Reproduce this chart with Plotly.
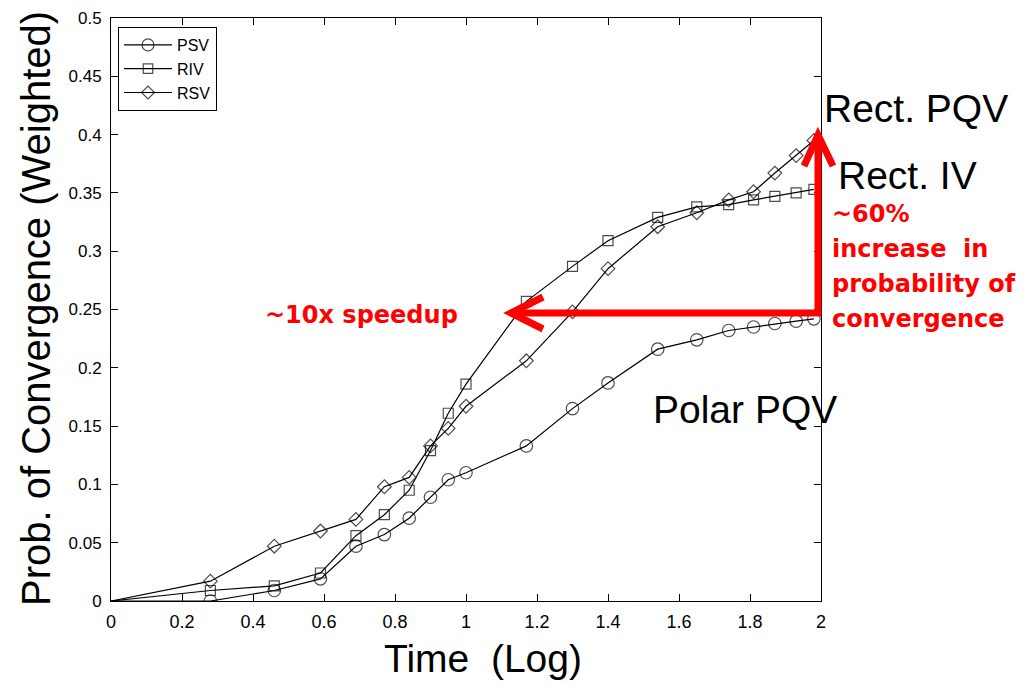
import plotly.graph_objects as go

# ---- data ----
x_log_time = [0, 0.28, 0.46, 0.59, 0.69, 0.77, 0.84, 0.90, 0.95, 1.00,
              1.17, 1.30, 1.40, 1.54, 1.65, 1.74, 1.81, 1.87, 1.93, 1.98]
psv = [0, 0.000, 0.009, 0.019, 0.047, 0.057, 0.071, 0.089, 0.104, 0.110,
       0.133, 0.165, 0.187, 0.216, 0.224, 0.232, 0.235, 0.238, 0.240, 0.242]
riv = [0, 0.009, 0.013, 0.024, 0.056, 0.074, 0.095, 0.129, 0.161, 0.186,
       0.257, 0.287, 0.309, 0.329, 0.338, 0.340, 0.344, 0.347, 0.350, 0.353]
rsv = [0, 0.017, 0.047, 0.060, 0.070, 0.098, 0.106, 0.133, 0.148, 0.167,
       0.206, 0.248, 0.285, 0.321, 0.333, 0.344, 0.351, 0.367, 0.382, 0.395]
series_names = ["PSV", "RIV", "RSV"]
x_ticks = [0, 0.2, 0.4, 0.6, 0.8, 1, 1.2, 1.4, 1.6, 1.8, 2]
y_ticks = [0, 0.05, 0.1, 0.15, 0.2, 0.25, 0.3, 0.35, 0.4, 0.45, 0.5]

FONT = "Liberation Sans, Arial, Helvetica, sans-serif"
BOLD_FONT = "DejaVu Sans, Verdana, sans-serif"
OFF = 8  # page body margin
W, H = 1025 - OFF, 685 - OFF
L, R, T, B = 111, 821, 18, 601  # plot area in screen pixels


def px(xp):
    return (xp - L) / (R - L)


def py(yp):
    return (B - yp) / (B - T)


fig = go.Figure()
symbols = ["circle-open", "square-open", "diamond-open"]
sizes = [12.5, 10, 10.5]
for name, ys, sym, sz in zip(series_names, [psv, riv, rsv], symbols, sizes):
    msize = [0] + [sz] * (len(ys) - 1)
    fig.add_trace(go.Scatter(
        x=x_log_time, y=ys, name=name, mode="lines+markers",
        line=dict(color="black", width=1.2),
        marker=dict(symbol=sym, size=msize, color="black",
                    line=dict(color="black", width=1.2)),
    ))

axis_common = dict(
    showline=True, linecolor="black", linewidth=1, mirror="ticks",
    ticks="inside", ticklen=7, tickcolor="black", tickwidth=1,
    showgrid=False, zeroline=False, automargin=False,
)
fig.update_xaxes(range=[0, 2], tickvals=x_ticks, ticklabelstandoff=4,
                 tickfont=dict(family=FONT, size=18, color="black"), **axis_common)
fig.update_yaxes(range=[0, 0.5], tickvals=y_ticks, ticklabelstandoff=5,
                 tickfont=dict(family=FONT, size=17, color="black"), **axis_common)

red = "#ff0000"
shapes = [
    # L-shaped shaft
    dict(type="path", xref="paper", yref="paper",
         path=f"M {px(513)},{py(313)} L {px(818)},{py(313)} L {px(818)},{py(137)}",
         line=dict(color=red, width=7), layer="above"),
    # left arrow head
    dict(type="path", xref="paper", yref="paper",
         path=f"M {px(543)},{py(297)} L {px(511)},{py(313)} L {px(543)},{py(329)}",
         line=dict(color=red, width=7), layer="above"),
    # up arrow head
    dict(type="path", xref="paper", yref="paper",
         path=f"M {px(804)},{py(166)} L {px(818)},{py(135)} L {px(833)},{py(166)}",
         line=dict(color=red, width=7), layer="above"),
]

anns = []


def txt(s, xl, yc, size, color="black", bold=False, xanchor="left", family=FONT):
    t = f"<b>{s}</b>" if bold else s
    anns.append(dict(text=t, x=px(xl), y=py(yc), xref="paper", yref="paper",
                     xanchor=xanchor, yanchor="middle", showarrow=False,
                     font=dict(family=family, size=size, color=color)))


txt("Rect. PQV", 822, 109, 39)
txt("Rect. IV", 836, 176, 39)
txt("Polar PQV", 651, 409, 39)
txt("~10x speedup", 263, 315, 24, red, True, family=BOLD_FONT)
txt("~60%", 830, 214, 24, red, True, family=BOLD_FONT)
txt("increase&nbsp; in", 830, 249, 24, red, True, family=BOLD_FONT)
txt("probability of", 830, 284, 24, red, True, family=BOLD_FONT)
txt("convergence", 830, 319, 24, red, True, family=BOLD_FONT)
# axis titles
txt("Time&nbsp; (Log)", 483, 658, 39, xanchor="center")
anns.append(dict(text="Prob. of Convergence (Weighted)", x=px(36), y=py(309),
                 xref="paper", yref="paper", xanchor="center", yanchor="middle",
                 textangle=-90, showarrow=False,
                 font=dict(family=FONT, size=40, color="black")))

fig.update_layout(
    width=W, height=H,
    margin=dict(l=L - OFF, r=W - (R - OFF), t=T - OFF, b=H - (B - OFF), pad=0),
    paper_bgcolor="white", plot_bgcolor="white",
    shapes=shapes, annotations=anns,
    legend=dict(x=px(118), y=py(27), xanchor="left", yanchor="top",
                bgcolor="white", bordercolor="black", borderwidth=1,
                font=dict(family=FONT, size=16, color="black"),
                tracegroupgap=0, itemwidth=48),
    showlegend=True,
)

fig.write_html("out.html")
